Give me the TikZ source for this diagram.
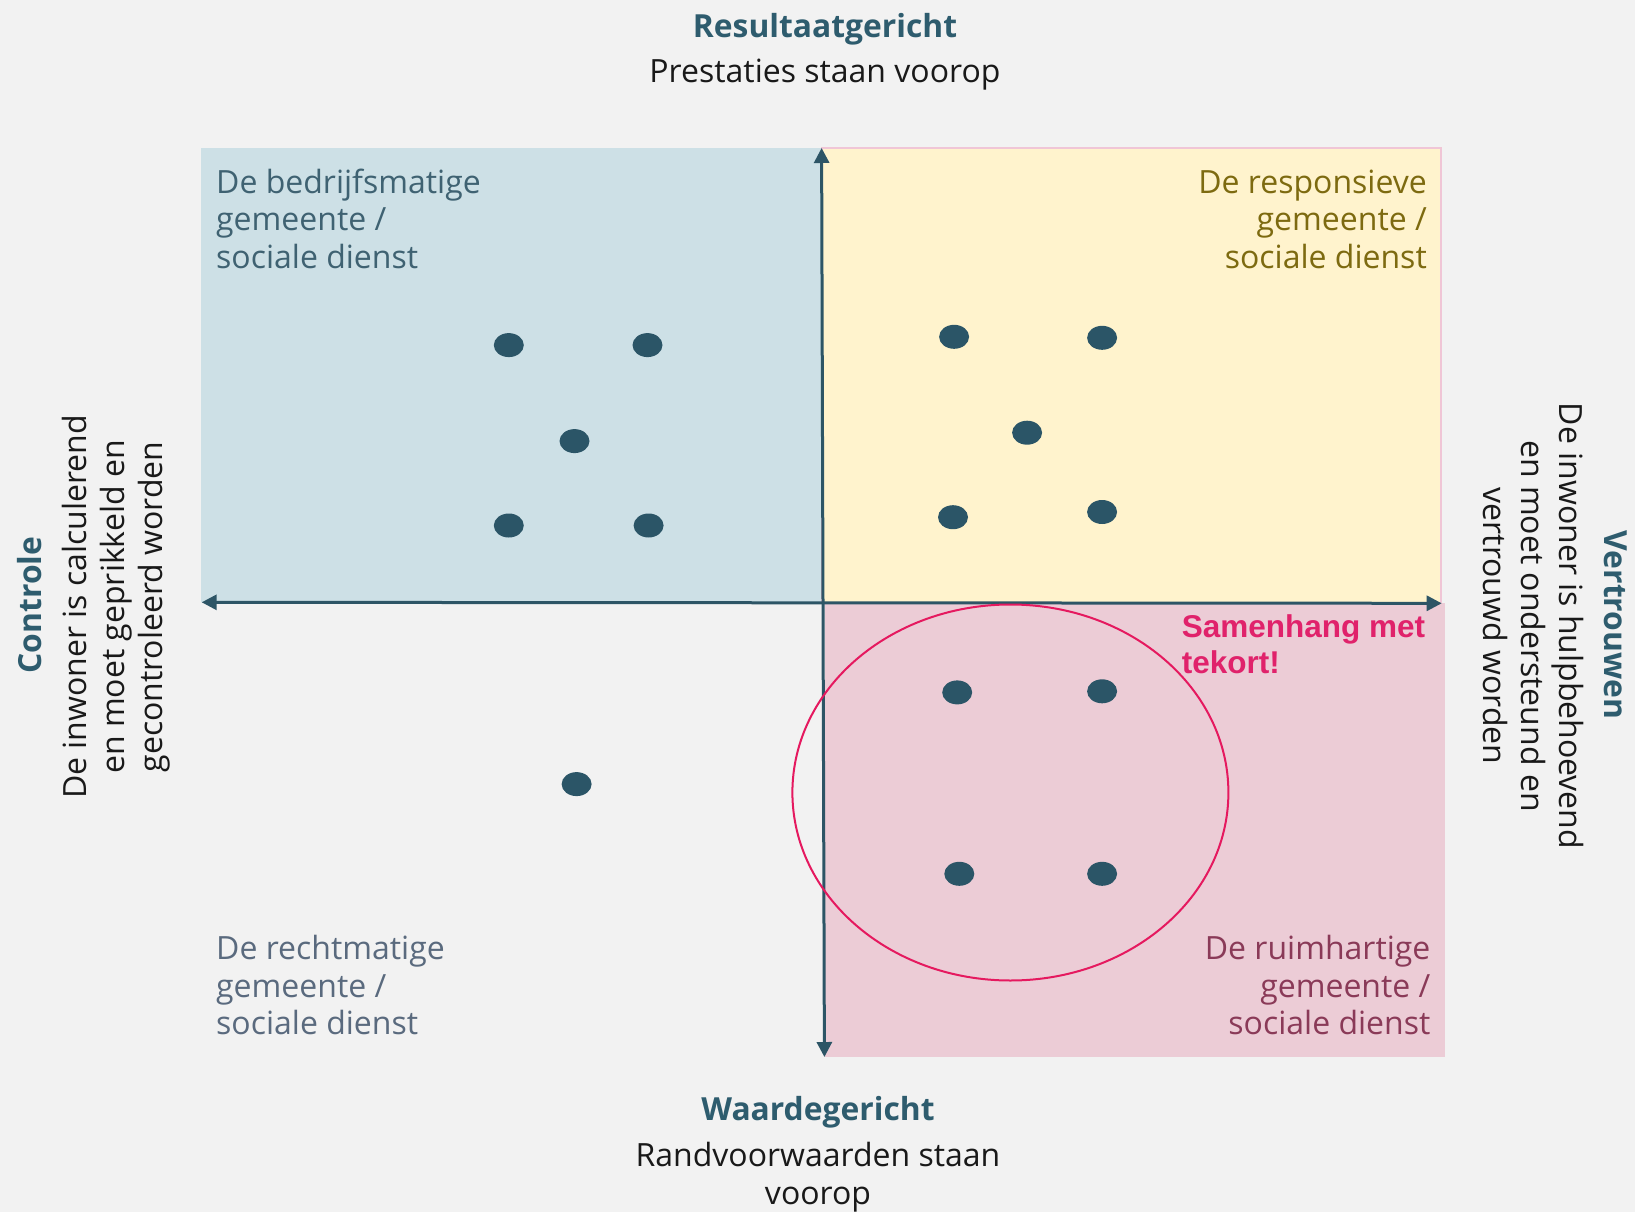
\documentclass[tikz,border=0pt]{standalone}
\usepackage{fontspec}
\setmainfont{Open Sans}
\newfontfamily\arialfont{Liberation Sans}
\usetikzlibrary{arrows.meta,shapes.geometric}
\definecolor{bgc}{HTML}{F2F2F2}
\definecolor{bluefill}{HTML}{CDE0E6}
\definecolor{yelfill}{HTML}{FFF3CD}
\definecolor{pinkfill}{HTML}{ECCCD6}
\definecolor{pinkedge}{HTML}{F0C6D6}
\definecolor{axisc}{HTML}{2D5566}
\definecolor{dotc}{HTML}{2B5567}
\definecolor{titlec}{HTML}{2E5C6E}
\definecolor{bluetxt}{HTML}{3F6272}
\definecolor{yeltxt}{HTML}{7D6A10}
\definecolor{graytxt}{HTML}{5A6A7E}
\definecolor{maroontxt}{HTML}{8A3A58}
\definecolor{magtxt}{HTML}{E0226B}
\definecolor{magline}{HTML}{E5195F}
\tikzset{
  dotn/.style={ellipse,fill=dotc,inner sep=0pt,minimum width=30pt,minimum height=24pt},
  axisline/.style={draw=axisc,line width=3pt,{Triangle[length=15pt,width=15pt]}-{Triangle[length=15pt,width=15pt]}},
  headtxt/.style={font=\fontsize{31.8}{38.5}\selectfont\bfseries,text=titlec,inner sep=0pt},
  subtxt/.style={font=\fontsize{32}{38}\selectfont,text=black!90,inner sep=0pt,align=center},
  quadtxt/.style={font=\fontsize{32}{37.5}\selectfont,inner sep=0pt},
}
\begin{document}
\begin{tikzpicture}[x=1pt,y=-1pt]
\path[use as bounding box,fill=bgc] (0,0) rectangle (1635,1212);
% quadrants
\fill[bluefill] (200.7,148) rectangle (822,601.5);
\filldraw[fill=yelfill,draw=pinkedge,line width=1.5pt] (822,148) rectangle (1441,603);
\fill[pinkfill] (825,603) rectangle (1445,1056.7);
% axes
\coordinate (vtop) at (821.6,148);
\coordinate (vbot) at (824.4,1057);
\coordinate (hleft) at (201.7,602.3);
\coordinate (hright) at (1441.7,603.3);
\draw[axisline] (hleft) -- (hright);
\draw[axisline] (vtop) -- (vbot);
% ellipse
\node[ellipse,draw=magline,line width=2pt,minimum width=436pt,minimum height=376pt,inner sep=0pt] (ring) at (1010.4,792.5) {};
% dots
\node[dotn] (b1) at (508.8,345.1) {};
\node[dotn] (b2) at (647.5,345.1) {};
\node[dotn] (b3) at (574.5,441.1) {};
\node[dotn] (b4) at (508.8,525.5) {};
\node[dotn] (b5) at (648.6,525.5) {};
\node[dotn] (y1) at (954.1,336.8) {};
\node[dotn] (y2) at (1102.1,337.8) {};
\node[dotn] (y3) at (1027.1,432.7) {};
\node[dotn] (y4) at (953.0,517.2) {};
\node[dotn] (y5) at (1102.1,512.0) {};
\node[dotn] (p1) at (957.2,692.4) {};
\node[dotn] (p2) at (1102.1,691.3) {};
\node[dotn] (p3) at (959.3,873.8) {};
\node[dotn] (p4) at (1102.1,873.8) {};
\node[dotn] (l1) at (576.6,784.1) {};
% headings
\node[headtxt,anchor=base] (top) at (825,37.3) {Resultaatgericht};
\node[subtxt,anchor=base] (topsub) at (825,82.7) {Prestaties staan voorop};
\node[headtxt,anchor=base] (bot) at (818,1120) {Waardegericht};
\node[subtxt,anchor=base] (botsub) at (818,1204) {Randvoorwaarden staan\\voorop};
\node[headtxt,anchor=base,rotate=90] (left) at (41.7,605) {Controle};
\node[subtxt,anchor=base,rotate=90] (leftsub) at (162,607) {De inwoner is calculerend\\en moet geprikkeld en\\gecontroleerd worden};
\node[headtxt,anchor=base,rotate=-90] (right) at (1604,625) {Vertrouwen};
\node[subtxt,anchor=base,rotate=-90] (rightsub) at (1483,626) {De inwoner is hulpbehoevend\\en moet ondersteund en\\vertrouwd worden};
% quadrant labels
\node[quadtxt,text=bluetxt,align=left,anchor=base west] (qb) at (216,268.3) {De bedrijfsmatige\\gemeente /\\sociale dienst};
\node[quadtxt,text=yeltxt,align=right,anchor=base east] (qy) at (1427,268.3) {De responsieve\\gemeente /\\sociale dienst};
\node[quadtxt,text=graytxt,align=left,anchor=base west] (qg) at (216,1034.5) {De rechtmatige\\gemeente /\\sociale dienst};
\node[quadtxt,text=maroontxt,align=right,anchor=base east] (qp) at (1430.6,1034.5) {De ruimhartige\\gemeente /\\sociale dienst};
\node[font=\arialfont\fontsize{31.5}{36.7}\selectfont\bfseries,text=magtxt,align=left,anchor=base west,inner sep=0pt] (sam) at (1181.7,673.7) {Samenhang met\\tekort!};
\end{tikzpicture}
\end{document}
